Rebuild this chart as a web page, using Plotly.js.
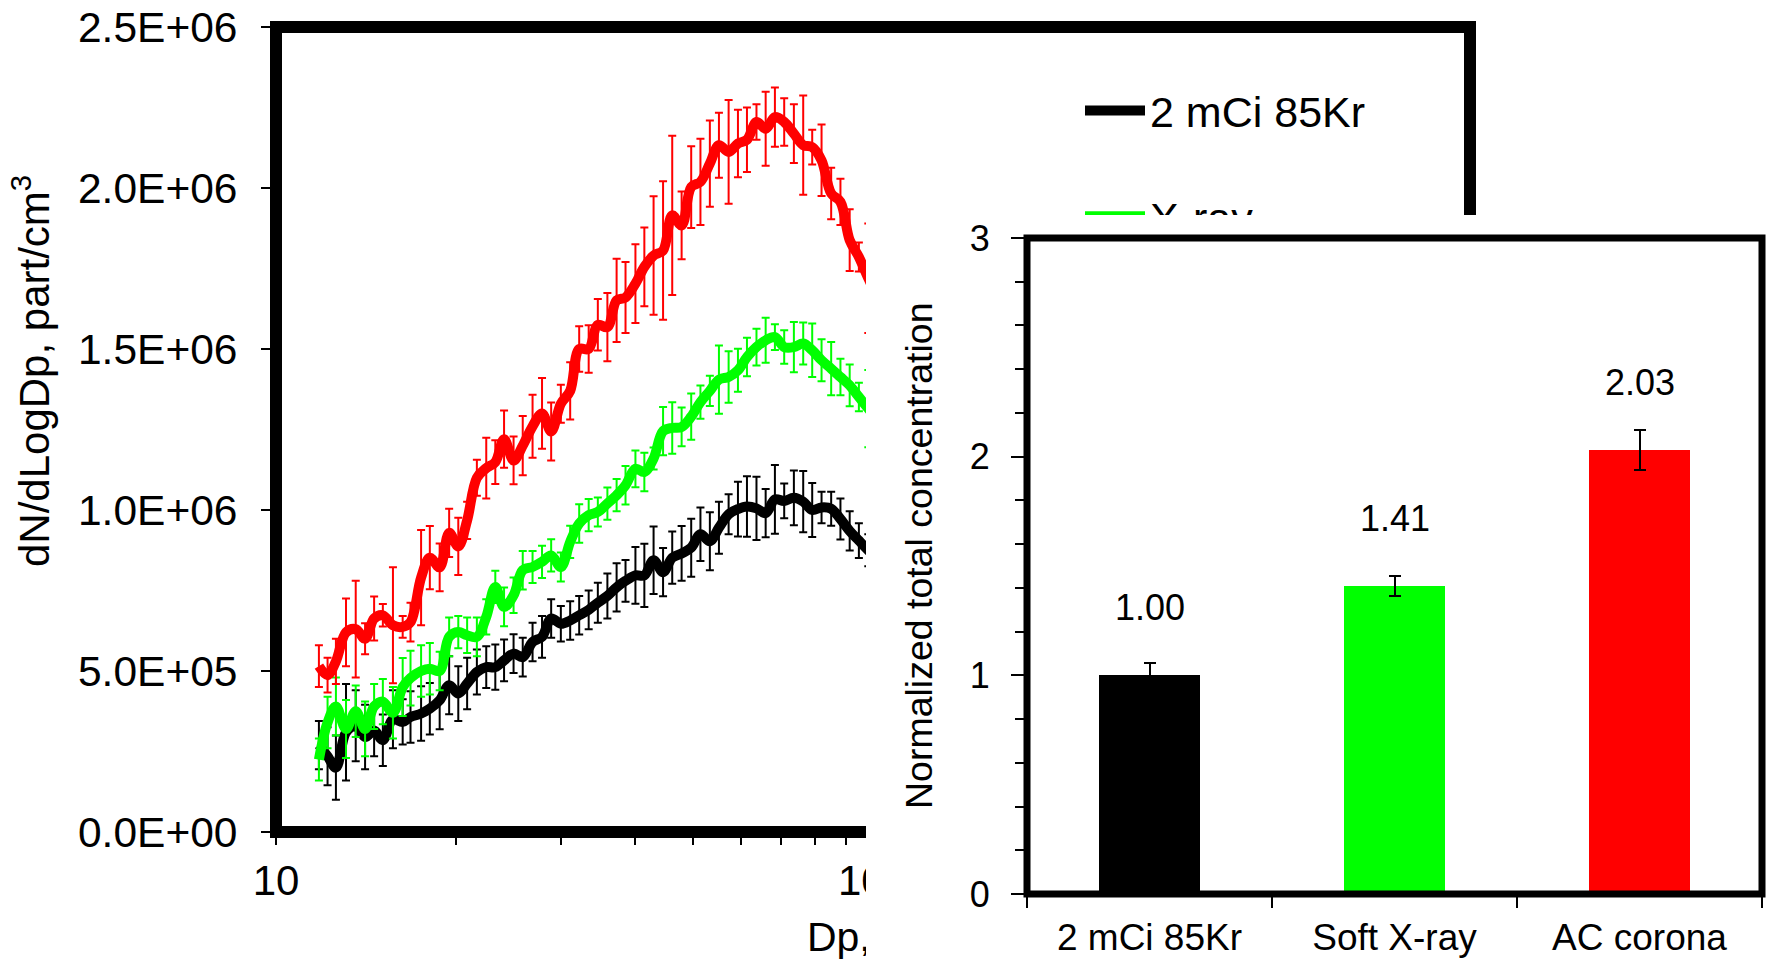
<!DOCTYPE html>
<html><head><meta charset="utf-8">
<script src="https://cdn.plot.ly/plotly-3.0.1.min.js"></script>
<style>
html,body{margin:0;padding:0;background:#fff;overflow:hidden;}
#main{position:absolute;left:0;top:0;width:1768px;height:960px;}
#inset{position:absolute;left:866px;top:215px;width:902px;height:745px;background:#fff;}
</style></head><body>
<div id="main"></div><div id="inset"></div>
<script>
// ---- size distribution (dN/dLogDp, part/cm3) vs mobility diameter Dp (nm) ----
const dp = [11.8,12.2,12.6,13.1,13.6,14.1,14.6,15.1,15.7,16.3,16.8,17.5,18.1,18.8,19.5,20.2,20.9,21.7,22.5,23.3,24.1,25.0,25.9,26.9,27.9,28.9,30.0,31.1,32.2,33.4,34.6,35.9,37.2,38.5,40.0,41.4,42.9,44.5,46.1,47.8,49.6,51.4,53.3,55.2,57.3,59.4,61.5,63.8,66.1,68.5,71.0,73.7,76.4,79.1,82.0,85.1,88.2,91.4,94.7,98.2,101.8];
const kr85 = [270000,235000,200000,310000,330000,295000,315000,285000,350000,342000,357000,368000,383000,409000,456000,430000,461000,497000,512000,512000,533000,554000,543000,590000,606000,663000,647000,657000,673000,690000,712000,733000,760000,780000,797000,797000,844000,807000,852000,865000,883000,925000,903000,945000,987000,1003000,1011000,1005000,990000,1033000,1028000,1038000,1026000,1000000,1008000,1004000,972000,935000,905000,875000,850000];
const kr85Err = [75000,90000,100000,150000,110000,100000,80000,80000,90000,70000,80000,85000,80000,90000,90000,85000,80000,70000,65000,70000,65000,60000,60000,60000,65000,60000,55000,60000,60000,60000,62000,70000,75000,65000,88000,98000,105000,75000,81000,85000,90000,83000,90000,81000,62000,85000,94000,98000,75000,107000,54000,85000,95000,84000,49000,53000,64000,61000,54000,50000,50000];
const xray = [225000,340000,390000,320000,375000,320000,390000,405000,370000,450000,478000,500000,507000,500000,606000,621000,611000,606000,668000,761000,699000,735000,813000,823000,839000,859000,823000,901000,958000,984000,994000,1020000,1046000,1077000,1128000,1118000,1160000,1245000,1255000,1258000,1290000,1335000,1370000,1405000,1413000,1434000,1475000,1506000,1527000,1537000,1506000,1506000,1517000,1496000,1465000,1439000,1413000,1387000,1351000,1315000,1280000];
const xrayErr = [65000,80000,90000,90000,80000,85000,70000,70000,80000,90000,85000,80000,80000,60000,60000,50000,55000,60000,55000,50000,60000,55000,60000,50000,50000,50000,45000,50000,60000,50000,45000,50000,50000,60000,57000,60000,34000,75000,80000,60000,72000,52000,47000,106000,80000,67000,60000,57000,70000,40000,52000,78000,65000,83000,65000,83000,57000,65000,44000,120000,50000];
const corona = [515000,487000,530000,620000,630000,600000,663000,673000,642000,637000,652000,790000,852000,822000,929000,887000,968000,1100000,1130000,1149000,1220000,1154000,1200000,1260000,1300000,1244000,1330000,1370000,1500000,1500000,1575000,1568000,1651000,1660000,1703000,1755000,1790000,1806000,1915000,1884000,2003000,2019000,2076000,2133000,2112000,2138000,2150000,2205000,2184000,2220000,2205000,2169000,2133000,2127000,2086000,1983000,1957000,1838000,1786000,1720000,1660000];
const coronaErr = [65000,54000,70000,105000,150000,48000,68000,35000,180000,34000,60000,148000,98000,74000,75000,89000,58000,56000,94000,68000,89000,74000,92000,98000,110000,90000,59000,89000,71000,74000,80000,106000,129000,110000,122000,122000,184000,215000,247000,105000,127000,134000,134000,101000,161000,105000,100000,55000,115000,92000,74000,91000,154000,54000,111000,80000,72000,96000,45000,170000,60000];
const lineNames = ['2 mCi 85Kr','X-ray','AC corona'];
const lineColors = ['#000000','#00FF00','#FF0000'];
const xTickVals = [10,100,1000];
const xTickText = ['10','100','1000'];
const xMinorVals = [20,30,40,50,60,70,80,90,200,300,400,500,600,700,800,900];
const yTickVals = [0,500000,1000000,1500000,2000000,2500000];
const yTickText = ['0.0E+00','5.0E+05','1.0E+06','1.5E+06','2.0E+06','2.5E+06'];

// ---- inset: normalized total concentration ----
const barCats = ['2 mCi 85Kr','Soft X-ray','AC corona'];
const barVals = [1.00,1.41,2.03];
const barErrs = [0.056,0.046,0.09];
const barColors = ['#000000','#00FF00','#FF0000'];

const FONT = 'Arial, "Liberation Sans", sans-serif';

const ys = [kr85, xray, corona];
const es = [kr85Err, xrayErr, coronaErr];
const mainTraces = ys.map((y, i) => ({
  type:'scatter', mode:'lines', x:dp, y:y, name:lineNames[i],
  legendgroup:'g'+i,
  line:{color:lineColors[i], width:10, shape:'spline', smoothing:1},
  error_y:{type:'data', array:es[i], visible:true, color:lineColors[i], thickness:2, width:4},
  hoverinfo:'skip'
}));

const ML = 276, MR = 298, MT = 27, MB = 128;
const PW = 1768 - ML - MR, PH = 960 - MT - MB;

const mainLayout = {
  width:1768, height:960,
  margin:{l:ML, r:MR, t:MT, b:MB},
  paper_bgcolor:'#ffffff', plot_bgcolor:'#ffffff',
  font:{family:FONT, color:'#000'},
  showlegend:true,
  legend:{x:(1080-ML)/PW, y:(MT+PH-76)/PH, xanchor:'left', yanchor:'top',
    font:{family:FONT, size:43, color:'#000'}, bgcolor:'rgba(0,0,0,0)',
    traceorder:'grouped', tracegroupgap:47, itemwidth:60},
  xaxis:{type:'log', range:[1,3], tickmode:'array', tickvals:xTickVals, ticktext:xTickText, tickangle:0,
    ticks:'outside', ticklen:12, tickwidth:2, tickcolor:'#000',
    minor:{tickmode:'array', tickvals:xMinorVals, ticks:'outside', ticklen:12, tickwidth:2, tickcolor:'#000', showgrid:false},
    showgrid:false, zeroline:false, showline:false, automargin:false,
    tickfont:{family:FONT, size:42, color:'#000'}, ticklabelstandoff:0,
    title:{text:'Dp, nm', font:{family:FONT, size:41, color:'#000'}, standoff:26}},
  yaxis:{range:[0,2500000], tickvals:yTickVals, ticktext:yTickText, tickangle:0,
    ticks:'outside', ticklen:14, tickwidth:2, tickcolor:'#000',
    showgrid:false, zeroline:false, showline:false, automargin:false,
    tickfont:{family:FONT, size:42.5, color:'#000'}, ticklabelstandoff:15},
  shapes:[{type:'rect', xref:'paper', yref:'paper', x0:0, x1:1, y0:0, y1:1,
    line:{color:'#000', width:12}, layer:'above'}],
  annotations:[{xref:'paper', yref:'paper', x:(31-ML)/PW, y:(MT+PH-371)/PH,
    xanchor:'center', yanchor:'middle', textangle:-90, showarrow:false,
    text:'dN/dLogDp, part/cm<sup>3</sup>', font:{family:FONT, size:42, color:'#000'}}]
};

Plotly.newPlot('main', mainTraces, mainLayout, {displayModeBar:false, staticPlot:true});

// inset
const IL = 161, IR = 6, IT = 23, IB = 66;
const IPH = 745 - IT - IB, IPW = 902 - IL - IR;
const insetTrace = {
  type:'bar', x:barCats, y:barVals, width:0.415,
  marker:{color:barColors, line:{width:0}},
  error_y:{type:'data', array:barErrs, visible:true, color:'#000', thickness:2, width:6},
  hoverinfo:'skip', showlegend:false
};
const insetLayout = {
  width:902, height:745,
  margin:{l:IL, r:IR, t:IT, b:IB},
  paper_bgcolor:'#ffffff', plot_bgcolor:'#ffffff',
  font:{family:FONT, color:'#000'},
  showlegend:false, bargap:0,
  xaxis:{type:'category', range:[-0.5,2.5], tickson:'boundaries', tickangle:0,
    ticks:'outside', ticklen:13, tickwidth:2, tickcolor:'#000',
    showgrid:false, zeroline:false, showline:false, automargin:false,
    tickfont:{family:FONT, size:37, color:'#000'}, ticklabelstandoff:18},
  yaxis:{range:[0,3], tickvals:[0,1,2,3], tickangle:0, ticks:'outside', ticklen:15, tickwidth:2, tickcolor:'#000',
    minor:{dtick:0.2, ticks:'outside', ticklen:11, tickwidth:2, tickcolor:'#000', showgrid:false},
    showgrid:false, zeroline:false, showline:false, automargin:false,
    tickfont:{family:FONT, size:36, color:'#000'}, ticklabelstandoff:14},
  shapes:[{type:'rect', xref:'paper', yref:'paper', x0:0, x1:1, y0:0, y1:1,
    line:{color:'#000', width:7}, layer:'above'}],
  annotations: barCats.map((c, i) => ({x:c, y:barVals[i], xref:'x', yref:'y',
    text:barVals[i].toFixed(2), showarrow:false, yanchor:'bottom', yshift:45,
    font:{family:FONT, size:36, color:'#000'}})).concat([
    {xref:'paper', yref:'paper', x:(919-866-IL)/IPW, y:(IT+IPH-(556-215))/IPH,
     xanchor:'center', yanchor:'middle', textangle:-90, showarrow:false,
     text:'Normalized total concentration', font:{family:FONT, size:37.5, color:'#000'}}])
};
Plotly.newPlot('inset', [insetTrace], insetLayout, {displayModeBar:false, staticPlot:true});
</script>
</body></html>
